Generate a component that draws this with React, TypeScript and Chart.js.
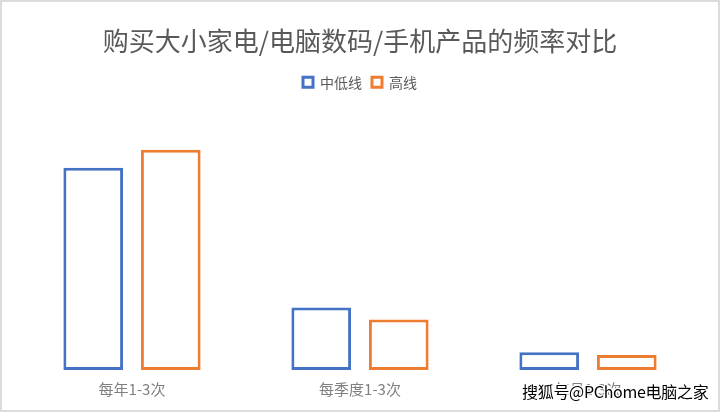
import React, { useEffect, useRef } from "react";
import { Chart, registerables } from "chart.js";

Chart.register(...registerables);

const titleText = "购买大小家电/电脑数码/手机产品的频率对比";
const categories = ["每年1-3次", "每季度1-3次", "每月1-3次"];
const seriesNames = ["中低线", "高线"];
const lowTierValues = [68, 21, 6];
const highTierValues = [74, 17, 5];
const watermarkText = "搜狐号@PChome电脑之家";

const FONT = "'Noto Sans CJK SC', 'Noto Sans', sans-serif";

export default function App() {
  const canvasRef = useRef<HTMLCanvasElement | null>(null);

  useEffect(() => {
    document.body.style.margin = "0";
    const ctx = canvasRef.current;
    if (!ctx) return;
    const chart = new Chart(ctx, {
      type: "bar",
      data: {
        labels: categories,
        datasets: [
          {
            label: seriesNames[0],
            data: lowTierValues,
            backgroundColor: "#ffffff",
            borderColor: "#4472C4",
            borderWidth: 3,
            borderSkipped: false,
            categoryPercentage: 0.68,
            barPercentage: 0.77,
          },
          {
            label: seriesNames[1],
            data: highTierValues,
            backgroundColor: "#ffffff",
            borderColor: "#ED7D31",
            borderWidth: 3,
            borderSkipped: false,
            categoryPercentage: 0.68,
            barPercentage: 0.77,
          },
        ],
      },
      options: {
        animation: false,
        responsive: false,
        maintainAspectRatio: false,
        layout: { padding: { left: 18, right: 18, top: 0, bottom: 4 } },
        plugins: {
          title: {
            display: true,
            text: titleText,
            color: "#595959",
            font: { family: FONT, size: 26, weight: "normal" },
            padding: { top: 26, bottom: 8 },
          },
          legend: {
            display: true,
            position: "top",
            labels: {
              color: "#595959",
              font: { family: FONT, size: 14 },
              boxWidth: 10,
              boxHeight: 10,
              padding: 10,
            },
          },
          tooltip: { enabled: false },
        },
        scales: {
          x: {
            grid: { display: false, drawTicks: false },
            border: { display: false },
            ticks: {
              color: "#808080",
              font: { family: FONT, size: 15 },
              padding: 10,
            },
          },
          y: {
            display: false,
            min: 0,
            max: 91,
          },
        },
      },
    });
    return () => chart.destroy();
  }, []);

  return (
    <div
      style={{
        position: "fixed",
        left: 0,
        top: 0,
        width: 720,
        height: 412,
        background: "#ffffff",
      }}
    >
      <canvas
        ref={canvasRef}
        width={720}
        height={412}
        style={{ position: "absolute", left: 0, top: 0, width: 720, height: 412 }}
      />
      <div
        style={{
          position: "absolute",
          left: 0,
          top: 0,
          width: 720,
          height: 412,
          boxSizing: "border-box",
          border: "2px solid #dcdcdc",
          pointerEvents: "none",
        }}
      />
      <div
        style={{
          position: "absolute",
          left: 522,
          top: 380,
          fontFamily: FONT,
          fontSize: 16,
          letterSpacing: -0.3,
          color: "#000000",
          whiteSpace: "nowrap",
          lineHeight: "22px",
          textShadow:
            "1px 0 0 #fff, -1px 0 0 #fff, 0 1px 0 #fff, 0 -1px 0 #fff, 1px 1px 0 #fff, -1px -1px 0 #fff, 1px -1px 0 #fff, -1px 1px 0 #fff",
        }}
      >
        {watermarkText}
      </div>
    </div>
  );
}
